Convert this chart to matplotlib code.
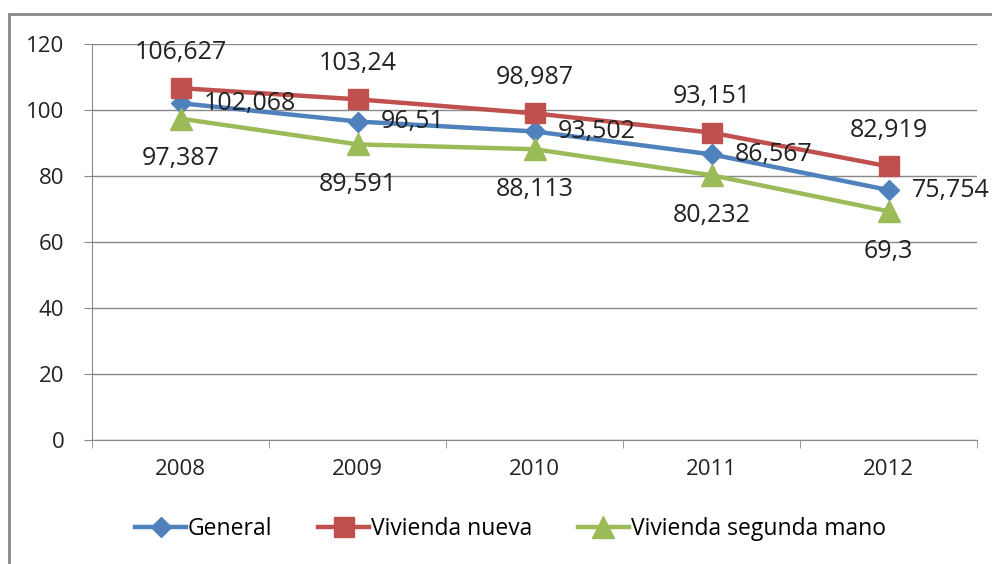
import matplotlib.pyplot as plt
from matplotlib.patches import Rectangle

years = ['2008', '2009', '2010', '2011', '2012']
general = [102.068, 96.51, 93.502, 86.567, 75.754]
nueva = [106.627, 103.24, 98.987, 93.151, 82.919]
segunda = [97.387, 89.591, 88.113, 80.232, 69.3]

plt.rcParams['font.family'] = ['Open Sans', 'DejaVu Sans']
lab_fs = 18
tick_fs = 16

fig = plt.figure(figsize=(9.92, 5.64), dpi=100)
ax = fig.add_axes([92 / 992, 1 - 440 / 564, 885 / 992, 396 / 564])

x = range(len(years))
ax.plot(x, general, color='#4F81BD', lw=3.2, marker='D', ms=10.5, label='General', zorder=3)
ax.plot(x, nueva, color='#C0504D', lw=3.2, marker='s', ms=14, label='Vivienda nueva', zorder=3)
ax.plot(x, segunda, color='#9BBB59', lw=3.2, marker='^', ms=16, label='Vivienda segunda mano', zorder=3)

def fmt(v):
    return f'{v:g}'.replace('.', ',')

for i, v in enumerate(general):
    ax.annotate(fmt(v), (i, v), xytext=(17, 0), textcoords='offset points',
                ha='left', va='center', fontsize=lab_fs, color='#222222')
for i, v in enumerate(nueva):
    ax.annotate(fmt(v), (i, v), xytext=(0, 26), textcoords='offset points',
                ha='center', va='center', fontsize=lab_fs, color='#222222')
for i, v in enumerate(segunda):
    ax.annotate(fmt(v), (i, v), xytext=(0, -29), textcoords='offset points',
                ha='center', va='center', fontsize=lab_fs, color='#222222')

ax.set_xlim(-0.5, len(years) - 0.5)
ax.set_ylim(0, 120)
ax.set_yticks(range(0, 121, 20))
ax.set_xticks(x)
ax.set_xticklabels(years)
ax.set_xticks([i - 0.5 for i in range(len(years) + 1)], minor=True)
ax.tick_params(axis='x', which='major', length=0, pad=14, labelsize=tick_fs, labelcolor='#222222')
ax.tick_params(axis='x', which='minor', length=6, color='#888888', direction='out')
ax.tick_params(axis='y', length=6, color='#888888', labelsize=tick_fs, pad=14, labelcolor='#222222')
ax.grid(axis='y', color='#888888', lw=1)
ax.set_axisbelow(True)
for s in ['top', 'right']:
    ax.spines[s].set_visible(False)
for s in ['left', 'bottom']:
    ax.spines[s].set_color('#888888')

ax.legend(loc='center', bbox_to_anchor=(0.473, -0.225), ncol=3, frameon=False,
          fontsize=16.5, handlelength=2.2, handletextpad=0.1, columnspacing=2.0)

fig.patches.append(Rectangle((9 / 992, -0.05), 1.2, 1 - 14 / 564 + 0.05, transform=fig.transFigure,
                             fill=False, edgecolor='#888888', lw=2))

fig.savefig('out.png', dpi=100)
